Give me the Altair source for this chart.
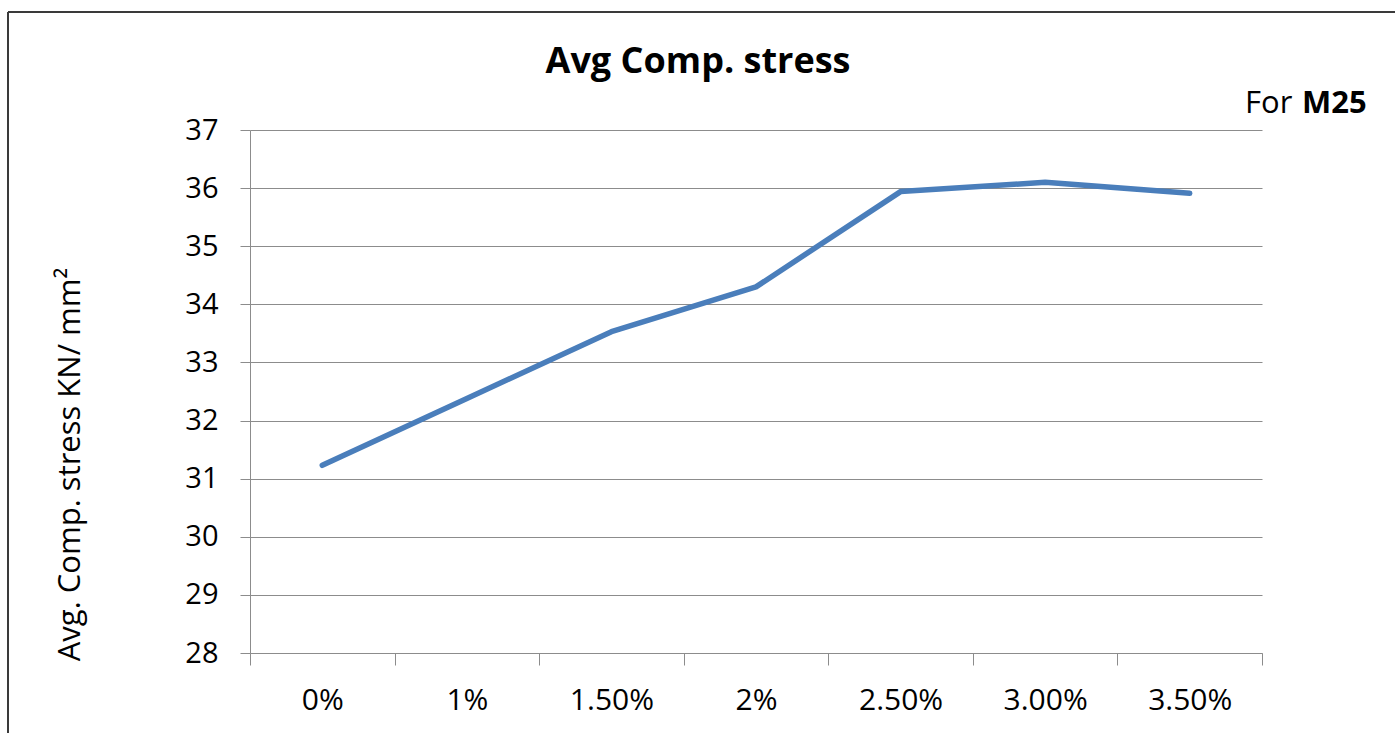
import altair as alt
import pandas as pd

# Average compressive stress for M25 concrete at each fibre dosage
fiber = ["0%", "1%", "1.50%", "2%", "2.50%", "3.00%", "3.50%"]
stress = [31.23, 32.38, 33.53, 34.30, 35.94, 36.10, 35.91]
y_ticks = [28, 29, 30, 31, 32, 33, 34, 35, 36, 37]

df = pd.DataFrame({"fiber": fiber, "stress": stress})
one = pd.DataFrame({"k": [0]})

W, H = 1012, 523
FONT = "Open Sans"
GRID = "#8c8c8c"

line = alt.Chart(df).mark_line(
    color="#4A7EBB", strokeWidth=5.5, strokeCap="round", strokeJoin="round"
).encode(
    x=alt.X(
        "fiber:N",
        sort=fiber,
        scale=alt.Scale(type="band", paddingInner=0, paddingOuter=0),
        axis=alt.Axis(
            title=None, labelAngle=0, tickBand="extent", grid=False,
            domainColor=GRID, tickColor=GRID, tickSize=12,
            labelFont=FONT, labelFontSize=30, labelPadding=20, labelColor="black",
        ),
    ),
    y=alt.Y(
        "stress:Q",
        scale=alt.Scale(domain=[28, 37], nice=False, zero=False),
        axis=alt.Axis(
            values=y_ticks, format="d", grid=True, gridColor=GRID,
            domainColor=GRID, tickColor=GRID, tickSize=10,
            labelFont=FONT, labelFontSize=29, labelPadding=22, labelColor="black",
            title="Avg. Comp. stress KN/ mm²", titleFont=FONT, titleFontSize=31,
            titleFontWeight="normal", titleColor="black", titleAngle=-90,
            titleX=-180, titleY=334, titleAlign="center", titleBaseline="middle",
        ),
    ),
)

title = alt.Chart(one).mark_text(
    text="Avg Comp. stress", font=FONT, fontSize=36, fontWeight="bold",
    align="center", baseline="alphabetic", color="black",
).encode(x=alt.value(448), y=alt.value(-57))

note_for = alt.Chart(one).mark_text(
    text="For", font=FONT, fontSize=31, align="left", baseline="alphabetic", color="black",
).encode(x=alt.value(995), y=alt.value(-17))

note_grade = alt.Chart(one).mark_text(
    text="M25", font=FONT, fontSize=31, fontWeight="bold",
    align="left", baseline="alphabetic", color="black",
).encode(x=alt.value(1052), y=alt.value(-17))

frame_left = alt.Chart(one).mark_rule(color="#3a3a3a", strokeWidth=2).encode(
    x=alt.value(-242), y=alt.value(-118), y2=alt.value(610)
)
frame_top = alt.Chart(one).mark_rule(color="#3a3a3a", strokeWidth=2).encode(
    x=alt.value(-242), x2=alt.value(1150), y=alt.value(-118)
)

chart = alt.layer(line, title, note_for, note_grade, frame_left, frame_top).properties(
    width=W, height=H,
    autosize=alt.AutoSizeParams(type="none"),
    padding={"left": 250, "top": 130, "right": 133, "bottom": 80},
    background="white",
).configure_view(stroke=None)

chart.save("out.html", embed_options={"renderer": "svg", "actions": False})
